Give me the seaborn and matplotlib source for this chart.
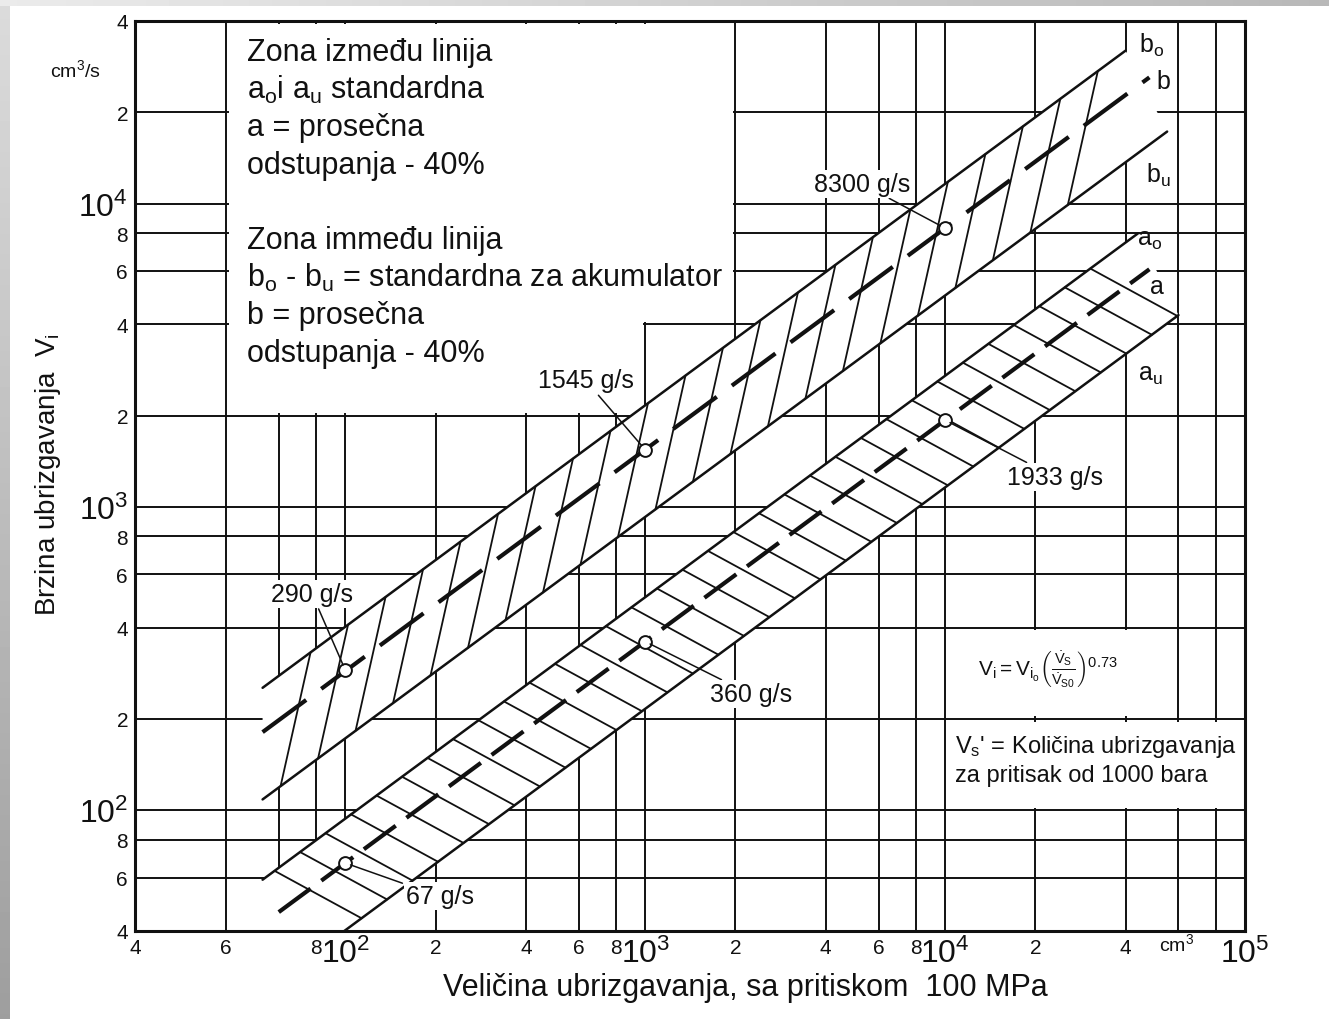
import numpy as np
import matplotlib
matplotlib.use("Agg")
import matplotlib.pyplot as plt
from matplotlib.patches import Rectangle
import seaborn as sns

# ---------------------------------------------------------------- data
# reference points on the two mean lines (x: cm3, y: cm3/s), labelled in g/s
POINT_X = [100, 1000, 10000]
B_MEAN = [290, 1545, 8300]
A_MEAN = [67, 360, 1933]
B_LABELS = ["290 g/s", "1545 g/s", "8300 g/s"]
A_LABELS = ["67 g/s", "360 g/s", "1933 g/s"]
EXPONENT = 0.73      # Vi = Vio * (Vs / Vs0) ** 0.73
DEVIATION = 0.40     # band limits: mean +/- 40 %

# x extent of every drawn line (start, end)
B_SPAN = {"upper": (53, 40000), "mean": (53, 48000), "lower": (53, 55000)}
A_SPAN = {"upper": (53, 44000), "mean": (60, 48000), "lower": (53, 60000)}

X_TICKS = [19.9, 40, 80, 100, 200, 400, 600, 800, 1e3, 2e3, 4e3, 6e3, 8e3,
           1e4, 2e4, 4e4, 1e5]
X_TICK_LABELS = ["4", "6", "8", "10^2", "2", "4", "6", "8", "10^3", "2", "4",
                 "6", "8", "10^4", "2", "4", "10^5"]
Y_TICKS = [40, 60, 80, 100, 200, 400, 600, 800, 1e3, 2e3, 4e3, 6e3, 8e3,
           1e4, 2e4, 4e4]
Y_TICK_LABELS = ["4", "6", "8", "10^2", "2", "4", "6", "8", "10^3", "2", "4",
                 "6", "8", "10^4", "2", "4"]
X_GRID = [40, 60, 80, 100, 200, 400, 600, 800, 1e3, 2e3, 4e3, 6e3, 8e3,
          1e4, 2e4, 4e4, 6e4, 8e4]
Y_GRID = [60, 80, 100, 200, 400, 600, 800, 1e3, 2e3, 4e3, 6e3, 8e3, 1e4, 2e4]

BOX_TEXT = ["Zona između linija",
            "a$_\\mathregular{o}$i a$_\\mathregular{u}$ standardna",
            "a = prosečna",
            "odstupanja - 40%",
            None,
            "Zona immeđu linija",
            "b$_\\mathregular{o}$ - b$_\\mathregular{u}$ = standardna za akumulator",
            "b = prosečna",
            "odstupanja - 40%"]

# ---------------------------------------------------------------- style
sns.set_theme(style="white")
plt.rcParams["font.family"] = ["Liberation Sans", "DejaVu Sans"]
plt.rcParams["mathtext.default"] = "regular"
plt.rcParams["mathtext.fontset"] = "custom"
plt.rcParams["mathtext.rm"] = "Liberation Sans"
plt.rcParams["mathtext.it"] = "Liberation Sans"

W, H = 1329, 1020
INK = "#111111"


def fpx(x, y):
    """pixel position -> figure fraction"""
    return x / W, 1 - y / H


fig = plt.figure(figsize=(W / 100, H / 100), dpi=100)
fig.patch.set_facecolor("white")

# scanner edge shading
edge_l = fig.add_axes([0, 0, 10 / W, 1])
edge_l.imshow(np.linspace(0.86, 0.62, 200)[:, None], cmap="gray", vmin=0, vmax=1,
              aspect="auto", extent=(0, 1, 0, 1))
edge_l.set_axis_off()
edge_t = fig.add_axes([0, 1 - 7 / H, 1, 7 / H])
edge_t.imshow(np.linspace(0.92, 0.72, 400)[None, :], cmap="gray", vmin=0, vmax=1,
              aspect="auto", extent=(0, 1, 0, 1))
edge_t.set_axis_off()

AX_L, AX_R, AX_T, AX_B = 135, 1245, 22, 932
ax = fig.add_axes([AX_L / W, 1 - AX_B / H, (AX_R - AX_L) / W, (AX_B - AX_T) / H])
ax.set_xscale("log")
ax.set_yscale("log")
ax.set_xlim(19.9, 1e5)
ax.set_ylim(40, 4e4)
ax.set_facecolor("white")
for s in ax.spines.values():
    s.set_color(INK)
    s.set_linewidth(2.2)

# ---------------------------------------------------------------- grid
for gx in X_GRID:
    ax.axvline(gx, color=INK, lw=1.4, zorder=1)
for gy in Y_GRID:
    ax.axhline(gy, color=INK, lw=1.4, zorder=1)

# blank panels for the notes (grid lines on their borders stay visible)
k = 1.02
for (x0, x1, y0, y1) in [(40, 1000, 2000, 4e4), (1000, 2000, 4000, 4e4),
                         (1e4, 6e4, 200, 400), (1e4, 1e5, 100, 200)]:
    ax.add_patch(Rectangle((x0 * k, y0 * k), x1 / k - x0 * k, y1 / k - y0 * k,
                           facecolor="white", edgecolor="none", zorder=1.5))
# the two text panels meet without a border between them
ax.add_patch(Rectangle((900, 4000 * k), 200, 4e4 / k - 4000 * k,
                       facecolor="white", edgecolor="none", zorder=1.5))


# ---------------------------------------------------------------- bands
def mean_line(x, x_ref, y_ref):
    return y_ref * (np.asarray(x, float) / x_ref) ** EXPONENT


def draw_band(values, span, hatch_step, hatch_run, hatch_from_lower, dash):
    x_ref, y_ref = POINT_X[1], values[1]
    up = lambda x: (1 + DEVIATION) * mean_line(x, x_ref, y_ref)
    lo = lambda x: (1 - DEVIATION) * mean_line(x, x_ref, y_ref)
    xu, xl = span["upper"], span["lower"]
    poly_x = [xu[0], xu[1], xl[1], xl[0]]
    poly_y = [up(xu[0]), up(xu[1]), lo(xl[1]), lo(xl[0])]
    ax.fill(poly_x, poly_y, color="white", zorder=2, lw=0)

    # hatching across the band
    if hatch_from_lower:
        starts = 10 ** np.arange(np.log10(xl[0]) + 0.06, np.log10(xl[1]), hatch_step)
        for x0 in starts:
            x1 = x0 * 10 ** hatch_run
            if x1 > xu[1]:
                break
            ax.plot([x0, x1], [lo(x0), up(x1)], color=INK, lw=1.3, zorder=3)
    else:
        starts = 10 ** np.arange(np.log10(xu[0]) + 0.04, np.log10(xu[1]), hatch_step)
        for x0 in starts:
            x1 = x0 * 10 ** hatch_run
            if x1 > xl[1]:
                break
            ax.plot([x0, x1], [up(x0), lo(x1)], color=INK, lw=1.3, zorder=3)

    # limit lines and dashed mean line
    sns.lineplot(x=list(xu), y=list(up(np.array(xu))), ax=ax, color=INK, lw=1.8,
                 estimator=None, sort=False, zorder=4)
    sns.lineplot(x=list(xl), y=list(lo(np.array(xl))), ax=ax, color=INK, lw=1.8,
                 estimator=None, sort=False, zorder=4)
    xm = np.array(span["mean"])
    sns.lineplot(x=list(xm), y=list(mean_line(xm, x_ref, y_ref)), ax=ax, color=INK,
                 lw=3.0, linestyle=(0, dash), estimator=None, sort=False, zorder=4)
    sns.scatterplot(x=POINT_X, y=values, ax=ax, s=85, facecolor="white",
                    edgecolor=INK, linewidth=1.4, zorder=5)


draw_band(B_MEAN, B_SPAN, hatch_step=0.125, hatch_run=0.10, hatch_from_lower=True,
          dash=(13, 4.5))
draw_band(A_MEAN, A_SPAN, hatch_step=0.085, hatch_run=0.29, hatch_from_lower=False,
          dash=(9.5, 3.2))

# point labels with leader lines
lbl_kw = dict(textcoords="offset points", ha="center", va="center", fontsize=18,
              color=INK, zorder=6,
              bbox=dict(facecolor="white", edgecolor="none", pad=1.5),
              arrowprops=dict(arrowstyle="-", lw=1.1, color=INK, shrinkA=1, shrinkB=4))
for (x, y, t, off) in zip(POINT_X, B_MEAN, B_LABELS, [(-24, 55), (-43, 50), (-60, 32)]):
    ax.annotate(t, xy=(x, y), xytext=off, **lbl_kw)
for (x, y, t, off) in zip(POINT_X, A_MEAN, A_LABELS, [(68, -24), (76, -38), (79, -41)]):
    ax.annotate(t, xy=(x, y), xytext=off, **lbl_kw)

# band names at the right ends
for t, (px, py) in [("b$_\\mathregular{o}$", (1152, 45)), ("b", (1163, 82)),
                    ("b$_\\mathregular{u}$", (1158, 175)), ("a$_\\mathregular{o}$", (1150, 240)),
                    ("a", (1157, 287)), ("a$_\\mathregular{u}$", (1150, 375))]:
    fig.text(*fpx(px, py), t, fontsize=18, ha="center", va="center", color=INK)

# ---------------------------------------------------------------- ticks
ax.set_xticks(X_TICKS)
ax.set_xticklabels(["$\\mathregular{%s}$" % t if "^" in t else t for t in X_TICK_LABELS])
ax.set_yticks(Y_TICKS)
ax.set_yticklabels(["$\\mathregular{%s}$" % t if "^" in t else t for t in Y_TICK_LABELS])
ax.minorticks_off()
ax.tick_params(length=0, pad=5, colors=INK)
for lab in ax.get_xticklabels() + ax.get_yticklabels():
    lab.set_fontsize(23 if "^" in lab.get_text() else 15)

fig.text(*fpx(75, 70), "cm$^3$/s", fontsize=14, ha="center", va="center", color=INK)
fig.text(*fpx(1177, 944), "cm$^3$", fontsize=14, ha="center", va="center", color=INK)

fig.text(*fpx(745, 988), "Veličina ubrizgavanja, sa pritiskom  100 MPa",
         fontsize=22, ha="center", va="center", color=INK)
fig.text(*fpx(48, 475), "Brzina ubrizgavanja  V$_\\mathregular{i}$",
         fontsize=20, ha="center", va="center", rotation=90, color=INK)

# ---------------------------------------------------------------- notes
for i, line in enumerate(BOX_TEXT):
    if line is None:
        continue
    fig.text(*fpx(247, 61 + 37.6 * i), line, fontsize=22, ha="left",
             va="baseline", color=INK)

fig.text(*fpx(1048, 670),
         r"$V_i = V_{i_o}\left(\frac{\dot V_S}{\dot V_{S0}}\right)^{0.73}$",
         fontsize=15, ha="center", va="center", color=INK)
fig.text(*fpx(955, 753), "V$_s$' = Količina ubrizgavanja", fontsize=17,
         ha="left", va="baseline", color=INK)
fig.text(*fpx(955, 782), "za pritisak od 1000 bara", fontsize=17,
         ha="left", va="baseline", color=INK)

fig.savefig("out.png", dpi=100)
